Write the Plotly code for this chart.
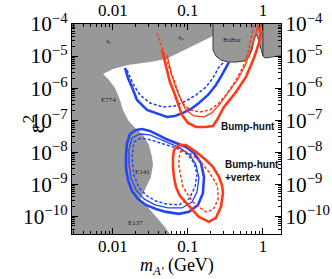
import numpy as np
import plotly.graph_objects as go

# ---------------- data ----------------
# excluded (grey) region: a_e, a_mu, BaBar, E774, E141, E137
excl_m = [0.002, 0.002, 2.0, 2.0, 1.24, 1.064, 1.0, 0.94, 0.858, 0.807, 0.759, 0.714, 0.65,
          0.558, 0.437, 0.341, 0.275, 0.236, 0.2154, 0.2154, 0.1064, 0.0509, 0.0311, 0.01585,
          0.01, 0.00736, 0.00885, 0.01064, 0.0124, 0.01359, 0.01585, 0.0197, 0.0251, 0.0302,
          0.0331, 0.0341, 0.0321, 0.0275, 0.0229, 0.0275, 0.0341, 0.0464, 0.0575, 0.0671]
excl_eps2 = [1e-11, 2e-4, 2e-4, 1.08e-5, 9.35e-6, 8.7e-6, 1.0e-5, 1.78e-5, 3.65e-5, 4.87e-5,
             3.17e-5, 1.55e-5, 9.35e-6, 7.0e-6, 6.5e-6, 6.5e-6, 7.5e-6, 1.0e-5, 1.55e-5, 4.22e-5,
             1.92e-5, 8.1e-6, 6.5e-6, 5.3e-6, 3.95e-6, 2.75e-6, 1.79e-6, 1.01e-6, 4.26e-7, 2.08e-7,
             1.01e-7, 5.7e-8, 3.45e-8, 1.68e-8, 7.1e-9, 4.0e-9, 1.69e-9, 7.7e-10, 3.24e-10,
             2.26e-10, 1.27e-10, 5.4e-11, 2.8e-11, 1.3e-11]

babar_edge_m = [2.0, 1.24, 1.064, 1.0, 0.94, 0.858, 0.807, 0.759, 0.714, 0.65, 0.558, 0.437,
                0.341, 0.275, 0.236, 0.2154, 0.2154]
babar_edge_eps2 = [1.08e-5, 9.35e-6, 8.7e-6, 1.0e-5, 1.78e-5, 3.65e-5, 4.87e-5, 3.17e-5, 1.55e-5,
                   9.35e-6, 7.0e-6, 6.5e-6, 6.5e-6, 7.5e-6, 1.0e-5, 1.55e-5, 1e-4]
babar_split_m = [1.0, 1.0]
babar_split_eps2 = [1.0e-5, 1e-4]

# Bump-hunt reach (upper)
bh_blue_solid_m = [0.01445, 0.01585, 0.0179, 0.0209, 0.0284, 0.0424, 0.0525, 0.0671, 0.0858,
                   0.1096, 0.140, 0.185, 0.236, 0.284, 0.321, 0.352]
bh_blue_solid_eps2 = [4.25e-6, 2.07e-6, 1.08e-6, 4.26e-7, 2.08e-7, 1.45e-7, 1.26e-7, 1.35e-7,
                      1.68e-7, 2.23e-7, 3.43e-7, 6.1e-7, 1.25e-6, 2.57e-6, 4.56e-6, 6.5e-6]
bh_blue_dash_m = [0.01538, 0.01686, 0.0185, 0.0229, 0.0311, 0.0464, 0.0671, 0.094, 0.128,
                  0.1738, 0.2154, 0.259, 0.302]
bh_blue_dash_eps2 = [3.67e-6, 2.22e-6, 1.34e-6, 6.1e-7, 3.43e-7, 2.58e-7, 2.77e-7, 3.96e-7,
                     6.1e-7, 1.08e-6, 2.07e-6, 4.56e-6, 6.5e-6]

bh_red_solid_m = [0.045, 0.0494, 0.0525, 0.0575, 0.065, 0.0736, 0.0832, 0.1, 0.128, 0.1686,
                  0.2154, 0.2438, 0.302, 0.437, 0.593, 0.759, 0.885, 0.94, 0.885, 0.97]
bh_red_solid_eps2 = [1.55e-5, 6.5e-6, 3.18e-6, 1.55e-6, 7.57e-7, 3.2e-7, 1.45e-7, 8.2e-8, 6.1e-8,
                     6.1e-8, 6.6e-8, 1.01e-7, 2.58e-7, 7.57e-7, 2.22e-6, 8.7e-6, 2.55e-5, 5.2e-5,
                     7.5e-5, 1e-4]
bh_red_thin_m = [0.0525, 0.0558, 0.0612, 0.0692, 0.0807, 0.094, 0.1202, 0.1634, 0.209, 0.267,
                 0.352, 0.464, 0.575, 0.671, 0.759, 0.832, 0.858]
bh_red_thin_eps2 = [1.08e-5, 5.65e-6, 2.39e-6, 1.01e-6, 4.26e-7, 2.08e-7, 1.35e-7, 1.26e-7,
                    1.68e-7, 3.2e-7, 7.57e-7, 1.92e-6, 4.9e-6, 1.25e-5, 3.17e-5, 6.5e-5, 1e-4]
bh_red_dash_m = [0.0386, 0.0424, 0.0464, 0.0509, 0.0575, 0.065, 0.0736, 0.0858, 0.1064, 0.1445,
                 0.1965, 0.251, 0.331, 0.437, 0.541, 0.631, 0.692, 0.736, 0.759]
bh_red_dash_eps2 = [5.2e-5, 2.75e-5, 1.55e-5, 7.5e-6, 3.67e-6, 1.79e-6, 7.57e-7, 3.2e-7, 2.08e-7,
                    1.8e-7, 2.08e-7, 3.2e-7, 6.56e-7, 1.79e-6, 4.56e-6, 1.25e-5, 3.17e-5, 7.5e-5,
                    1e-4]

# Bump-hunt + vertex reach (lower, closed contours)
bv_blue_solid_m = [0.01686, 0.0203, 0.0244, 0.0311, 0.0398, 0.0509, 0.0692, 0.094, 0.1202, 0.149,
                   0.1634, 0.1585, 0.1359, 0.1031, 0.0759, 0.0509, 0.0374, 0.0275, 0.0215,
                   0.0179, 0.01585, 0.0149, 0.0149, 0.01538]
bv_blue_solid_eps2 = [3.7e-8, 4.94e-8, 5.3e-8, 4.6e-8, 3.45e-8, 2.59e-8, 1.94e-8, 1.46e-8, 9.5e-9,
                      4.6e-9, 1.69e-9, 5.36e-10, 2.26e-10, 1.37e-10, 1.19e-10, 1.37e-10, 1.70e-10,
                      2.26e-10, 3.48e-10, 6.18e-10, 1.36e-9, 3.22e-9, 8.2e-9, 1.94e-8]
bv_blue_thin_m = [0.0179, 0.0229, 0.0311, 0.0509, 0.0782, 0.1064, 0.128, 0.140, 0.132, 0.113,
                  0.0832, 0.0541, 0.0363, 0.0259, 0.0203, 0.0174, 0.0163, 0.0163]
bv_blue_thin_eps2 = [2.78e-8, 3.7e-8, 3.45e-8, 2.09e-8, 1.36e-8, 8.2e-9, 4.0e-9, 1.57e-9, 5.75e-10,
                     2.8e-10, 1.82e-10, 1.82e-10, 2.26e-10, 3.48e-10, 6.6e-10, 1.57e-9, 4.6e-9,
                     1.17e-8]
bv_blue_dash_m = [0.019, 0.0236, 0.0321, 0.0509, 0.0759, 0.1, 0.1202, 0.132, 0.1239, 0.1031,
                  0.0759, 0.0509, 0.0374, 0.0284, 0.0222, 0.019, 0.0179]
bv_blue_dash_eps2 = [2.09e-8, 2.78e-8, 2.41e-8, 1.68e-8, 1.26e-8, 8.2e-9, 4.6e-9, 2.09e-9, 8.2e-10,
                     3.48e-10, 2.26e-10, 2.43e-10, 3.0e-10, 4.32e-10, 7.7e-10, 1.95e-9, 6.6e-9]

bv_red_solid_m = [0.0759, 0.065, 0.0631, 0.0631, 0.065, 0.0692, 0.0782, 0.094, 0.113, 0.140,
                  0.1905, 0.236, 0.275, 0.293, 0.284, 0.259, 0.2154, 0.1738, 0.128, 0.094]
bv_red_solid_eps2 = [1.68e-8, 1.17e-8, 6.6e-9, 3.47e-9, 1.69e-9, 8.2e-10, 4.32e-10, 2.61e-10,
                     1.58e-10, 9.5e-11, 6.7e-11, 8.9e-11, 1.96e-10, 5.36e-10, 9.5e-10, 1.69e-9,
                     3.47e-9, 5.7e-9, 1.02e-8, 1.68e-8]
bv_red_dash_m = [0.0807, 0.0759, 0.0759, 0.0807, 0.0858, 0.1, 0.1166, 0.140, 0.1738, 0.2154,
                 0.251, 0.251, 0.236, 0.1905, 0.140, 0.1031]
bv_red_dash_eps2 = [1.17e-8, 6.6e-9, 3.47e-9, 1.69e-9, 8.2e-10, 4.63e-10, 2.8e-10, 1.96e-10,
                    1.37e-10, 1.58e-10, 3.24e-10, 6.6e-10, 1.10e-9, 2.42e-9, 5.7e-9, 9.5e-9]

# region labels: (text, mass, eps2)
region_labels = [("a<sub>e</sub>", 0.00858, 2.95e-5),
                 ("a<sub>μ</sub>", 0.0807, 3.9e-5),
                 ("BaBar", 0.398, 3.16e-5),
                 ("E774", 0.00858, 4.26e-7),
                 ("E141", 0.0251, 2.4e-9),
                 ("E137", 0.0197, 6.2e-11)]
reach_labels = [("<b>Bump-hunt</b>", 0.631, 6.2e-8, "center"),
                ("<b>Bump-hunt<br>+vertex</b>", 0.293, 2.6e-9, "left")]

x_range = [0.00284, 1.74]
y_range = [2.8e-11, 1e-4]

# ---------------- figure ----------------
BLUE = "#2446f0"
RED = "#ff3a14"
GREY = "#989898"


def closed(a):
    return list(a) + [a[0]]


fig = go.Figure()
fig.add_trace(go.Scatter(x=excl_m, y=excl_eps2, fill="toself", fillcolor=GREY,
                         mode="lines", line=dict(width=0), hoverinfo="skip"))
fig.add_trace(go.Scatter(x=babar_edge_m, y=babar_edge_eps2, mode="lines",
                         line=dict(color="#3a3a3a", width=1)))
fig.add_trace(go.Scatter(x=babar_split_m, y=babar_split_eps2, mode="lines",
                         line=dict(color="#3a3a3a", width=1)))

fig.add_trace(go.Scatter(x=bh_blue_solid_m, y=bh_blue_solid_eps2, mode="lines",
                         line=dict(color=BLUE, width=2.6)))
fig.add_trace(go.Scatter(x=bh_blue_dash_m, y=bh_blue_dash_eps2, mode="lines",
                         line=dict(color=BLUE, width=1.6, dash="3px,2px")))
fig.add_trace(go.Scatter(x=bh_red_solid_m, y=bh_red_solid_eps2, mode="lines",
                         line=dict(color=RED, width=2.6)))
fig.add_trace(go.Scatter(x=bh_red_thin_m, y=bh_red_thin_eps2, mode="lines",
                         line=dict(color=RED, width=1.3)))
fig.add_trace(go.Scatter(x=bh_red_dash_m, y=bh_red_dash_eps2, mode="lines",
                         line=dict(color=RED, width=1.5, dash="3px,2px")))

fig.add_trace(go.Scatter(x=closed(bv_blue_solid_m), y=closed(bv_blue_solid_eps2), mode="lines",
                         line=dict(color=BLUE, width=2.6)))
fig.add_trace(go.Scatter(x=closed(bv_blue_thin_m), y=closed(bv_blue_thin_eps2), mode="lines",
                         line=dict(color=BLUE, width=1.3)))
fig.add_trace(go.Scatter(x=closed(bv_blue_dash_m), y=closed(bv_blue_dash_eps2), mode="lines",
                         line=dict(color=BLUE, width=1.5, dash="3px,2px")))
fig.add_trace(go.Scatter(x=closed(bv_red_solid_m), y=closed(bv_red_solid_eps2), mode="lines",
                         line=dict(color=RED, width=2.6)))
fig.add_trace(go.Scatter(x=closed(bv_red_dash_m), y=closed(bv_red_dash_eps2), mode="lines",
                         line=dict(color=RED, width=1.5, dash="3px,2px")))

# invisible trace for mirrored axes
fig.add_trace(go.Scatter(x=[0.1], y=[1e-7], xaxis="x2", yaxis="y2", mode="markers",
                         marker=dict(opacity=0), hoverinfo="skip"))

annotations = []
for txt, m, e in region_labels:
    annotations.append(dict(x=np.log10(m), y=np.log10(e), xref="x", yref="y", text=txt,
                            showarrow=False, font=dict(family="Liberation Serif", size=7,
                                                       color="#222")))
for txt, m, e, al in reach_labels:
    annotations.append(dict(x=np.log10(m), y=np.log10(e), xref="x", yref="y", text=txt,
                            showarrow=False, xanchor=al, align="left",
                            font=dict(family="Liberation Sans", size=10, color="#111")))
annotations.append(dict(x=-0.265, y=0.52, xref="paper", yref="paper", text="ε<sup>2</sup>",
                        showarrow=False, textangle=-90,
                        font=dict(family="Liberation Serif", size=24, color="black")))
annotations.append(dict(x=0.5, y=-0.157, xref="paper", yref="paper",
                        text="<i>m</i><sub><i>A'</i></sub> (GeV)", showarrow=False,
                        yanchor="middle",
                        font=dict(family="Liberation Serif", size=18, color="black")))

tickfont = dict(family="Liberation Serif", size=17, color="black")
common = dict(type="log", showline=True, linecolor="black", linewidth=1, ticks="inside",
              ticklen=6, tickcolor="black", dtick=1, showgrid=False, zeroline=False,
              tickfont=tickfont, automargin=False,
              minor=dict(ticks="inside", ticklen=3, tickcolor="black", dtick="D1",
                         showgrid=False))
xr = [np.log10(x_range[0]), np.log10(x_range[1])]
yr = [np.log10(y_range[0]), np.log10(y_range[1])]

fig.update_layout(
    width=332, height=279,
    margin=dict(l=72, r=51, t=24, b=45),
    paper_bgcolor="white", plot_bgcolor="white",
    showlegend=False,
    xaxis=dict(range=xr, ticklabelstandoff=-3, **common),
    xaxis2=dict(range=xr, overlaying="x", side="top", **common),
    yaxis=dict(range=yr, exponentformat="power", showexponent="all", **common),
    yaxis2=dict(range=yr, overlaying="y", side="right", exponentformat="power",
                showexponent="all", **common),
    annotations=annotations,
)

# remove the page's default body margin so the figure fills the window exactly
fig.write_html("out.html", config={"displayModeBar": False},
               post_script="document.body.style.margin='0';document.body.style.overflow='hidden';")
